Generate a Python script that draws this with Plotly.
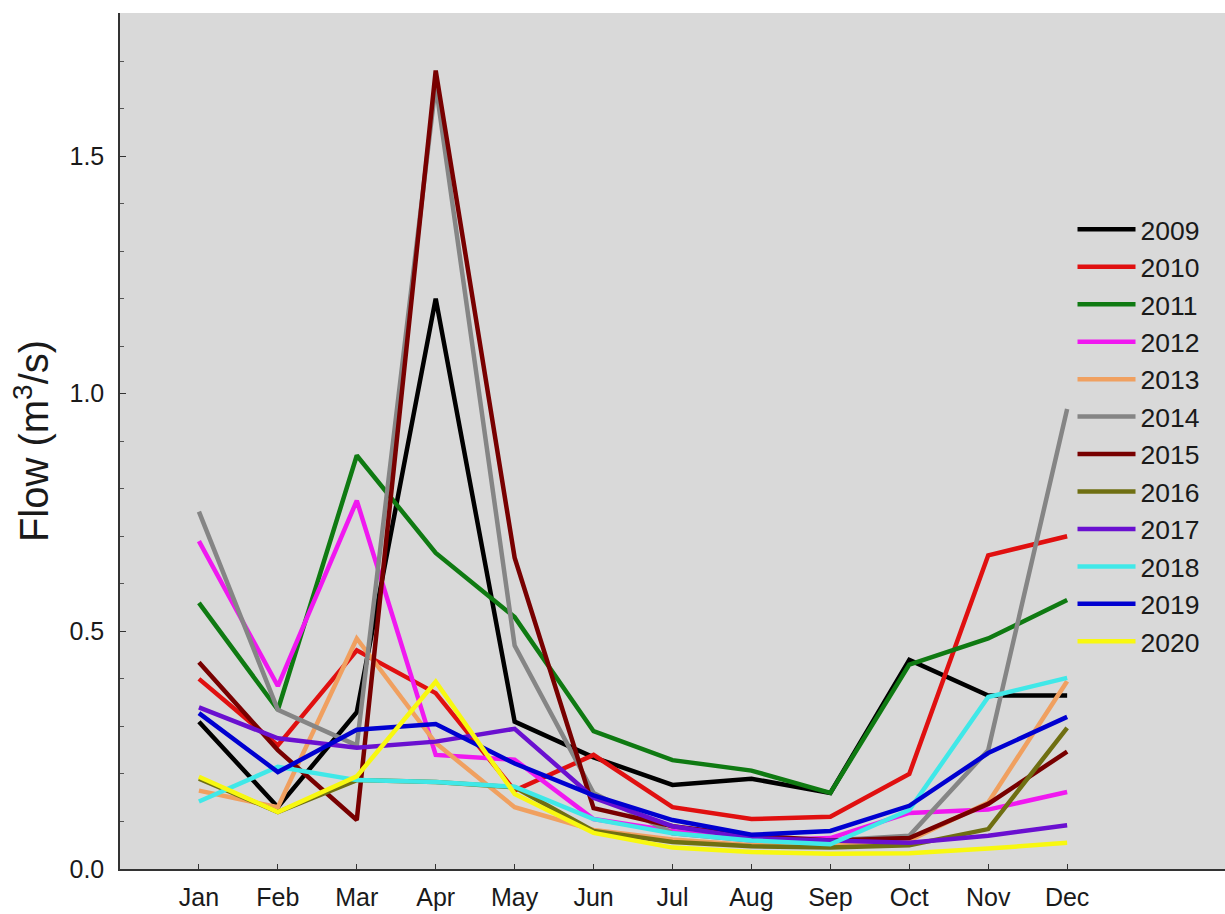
import plotly.graph_objects as go

months = ["Jan", "Feb", "Mar", "Apr", "May", "Jun", "Jul", "Aug", "Sep", "Oct", "Nov", "Dec"]
month_pos = list(range(12))

years = ["2009", "2010", "2011", "2012", "2013", "2014", "2015", "2016", "2017", "2018", "2019", "2020"]

flow_2009 = [0.31, 0.13, 0.33, 1.20, 0.31, 0.235, 0.177, 0.19, 0.16, 0.44, 0.365, 0.365]
flow_2010 = [0.40, 0.26, 0.46, 0.37, 0.165, 0.24, 0.13, 0.105, 0.11, 0.20, 0.66, 0.70]
flow_2011 = [0.56, 0.335, 0.87, 0.665, 0.53, 0.29, 0.229, 0.207, 0.16, 0.43, 0.485, 0.566]
flow_2012 = [0.69, 0.385, 0.775, 0.24, 0.23, 0.105, 0.08, 0.06, 0.065, 0.118, 0.125, 0.162]
flow_2013 = [0.165, 0.13, 0.485, 0.265, 0.13, 0.082, 0.062, 0.05, 0.05, 0.06, 0.14, 0.395]
flow_2014 = [0.752, 0.335, 0.26, 1.65, 0.47, 0.16, 0.075, 0.06, 0.06, 0.07, 0.25, 0.968]
flow_2015 = [0.435, 0.25, 0.103, 1.68, 0.655, 0.128, 0.09, 0.07, 0.06, 0.065, 0.137, 0.247]
flow_2016 = [0.19, 0.12, 0.187, 0.183, 0.172, 0.08, 0.057, 0.048, 0.045, 0.05, 0.084, 0.297]
flow_2017 = [0.34, 0.275, 0.255, 0.268, 0.295, 0.15, 0.09, 0.065, 0.06, 0.055, 0.07, 0.092]
flow_2018 = [0.142, 0.215, 0.187, 0.183, 0.173, 0.105, 0.075, 0.06, 0.052, 0.124, 0.362, 0.402]
flow_2019 = [0.328, 0.204, 0.293, 0.305, 0.222, 0.155, 0.103, 0.072, 0.08, 0.133, 0.244, 0.32]
flow_2020 = [0.194, 0.12, 0.195, 0.394, 0.158, 0.076, 0.045, 0.036, 0.032, 0.033, 0.043, 0.055]

series = [flow_2009, flow_2010, flow_2011, flow_2012, flow_2013, flow_2014,
          flow_2015, flow_2016, flow_2017, flow_2018, flow_2019, flow_2020]

colors = ["#000000", "#e01010", "#0f7a12", "#f018f0", "#f0a060", "#858585",
          "#780000", "#6f6f12", "#6a10d0", "#40e8e8", "#0000d0", "#f8f810"]

y_ticks = [0.0, 0.5, 1.0, 1.5]

fig = go.Figure()
for yr, vals, col in zip(years, series, colors):
    fig.add_trace(go.Scatter(
        x=month_pos, y=vals, mode="lines", name=yr,
        line=dict(color=col, width=4.5),
    ))

fig.update_layout(
    width=1225, height=914,
    margin=dict(l=120, r=0, t=13, b=45),
    paper_bgcolor="white",
    plot_bgcolor="#d9d9d9",
    font=dict(family="Liberation Sans, Arial, sans-serif", color="#1a1a1a"),
    showlegend=True,
    legend=dict(
        x=0.862, y=0.775, xanchor="left", yanchor="top",
        bgcolor="rgba(0,0,0,0)", borderwidth=0,
        font=dict(size=26.5, color="#1a1a1a"),
        itemwidth=58,
    ),
    xaxis=dict(
        range=[-1, 13], tickmode="array", tickvals=month_pos, ticktext=months,
        showgrid=False, zeroline=False, showline=True, linecolor="#333333", linewidth=1.5,
        ticks="inside", ticklen=5, tickcolor="#333333", tickfont=dict(size=25),
        ticklabelstandoff=5,
    ),
    yaxis=dict(
        range=[0, 1.801], tickmode="array", tickvals=y_ticks, tickformat=".1f",
        showgrid=False, zeroline=False, showline=True, linecolor="#333333", linewidth=1.5,
        ticks="inside", ticklen=6, tickcolor="#333333", tickfont=dict(size=25),
        ticklabelstandoff=9,
        minor=dict(dtick=0.1, ticks="inside", ticklen=4, tickcolor="#555555"),
        title=dict(text="Flow (m<sup>3</sup>/s)", font=dict(size=40), standoff=8),
    ),
)

fig.write_html("out.html", config={"displayModeBar": False},
               post_script="document.body.style.margin='0px';")
